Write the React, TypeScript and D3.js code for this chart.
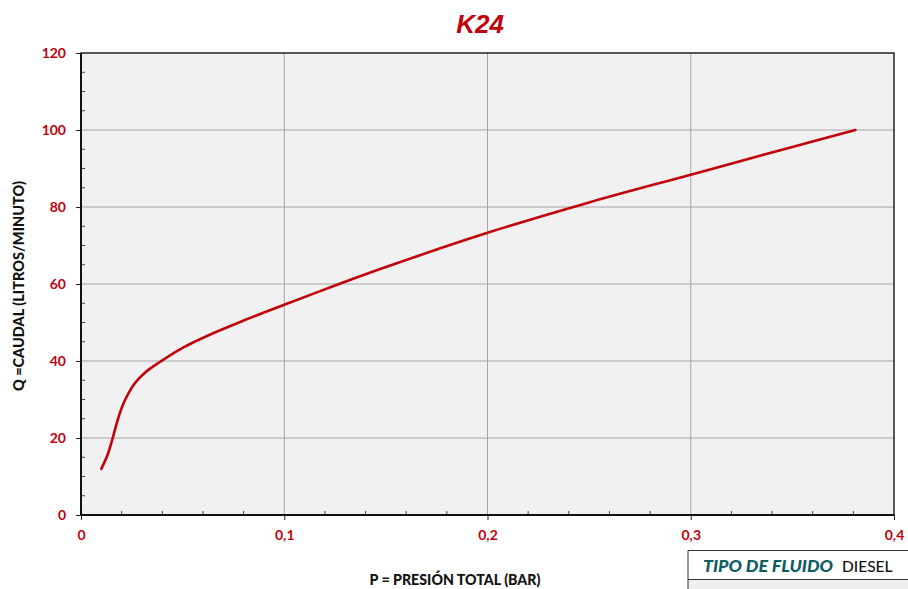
import { useEffect, useRef } from "react";
import * as d3 from "d3";

// presión total (bar) vs caudal (l/min)
const presion = [0.01, 0.013, 0.0155, 0.018, 0.021, 0.0265, 0.032, 0.039, 0.05, 0.065, 0.08, 0.1, 0.125, 0.15, 0.2, 0.25, 0.3, 0.35, 0.381];
const caudal = [12, 15.5, 19.8, 24.6, 29.1, 34.2, 37.2, 39.8, 43.4, 47.2, 50.5, 54.6, 59.6, 64.4, 73.3, 81.2, 88.4, 95.6, 100];

const xTicks = [0, 0.1, 0.2, 0.3, 0.4];
const yTicks = [0, 20, 40, 60, 80, 100, 120];

const RED = "#c2000b";
const FONT = "Lato, 'DejaVu Sans', sans-serif";

export default function App() {
  const ref = useRef<SVGSVGElement>(null);

  useEffect(() => {
    const svg = d3.select(ref.current);
    svg.selectAll("*").remove();

    const m = { left: 81, top: 53, right: 894, bottom: 515 };
    const x = d3.scaleLinear().domain([0, 0.4]).range([m.left, m.right]);
    const y = d3.scaleLinear().domain([0, 120]).range([m.bottom, m.top]);

    svg
      .append("rect")
      .attr("x", m.left)
      .attr("y", m.top)
      .attr("width", m.right - m.left)
      .attr("height", m.bottom - m.top)
      .attr("fill", "#f1f1f1");

    // grid
    svg
      .append("g")
      .selectAll("line")
      .data(xTicks.slice(1, -1))
      .join("line")
      .attr("x1", (d) => x(d))
      .attr("x2", (d) => x(d))
      .attr("y1", m.top)
      .attr("y2", m.bottom)
      .attr("stroke", "#a6a6a6")
      .attr("stroke-width", 1);
    svg
      .append("g")
      .selectAll("line")
      .data(yTicks.slice(1, -1))
      .join("line")
      .attr("x1", m.left)
      .attr("x2", m.right)
      .attr("y1", (d) => y(d))
      .attr("y2", (d) => y(d))
      .attr("stroke", "#a6a6a6")
      .attr("stroke-width", 1);

    // minor ticks, drawn inward
    const xMinor = d3.range(0.02, 0.4, 0.02).filter((v) => Math.abs(v * 10 - Math.round(v * 10)) > 1e-6);
    svg
      .append("g")
      .selectAll("line")
      .data(xMinor)
      .join("line")
      .attr("x1", (d) => x(d))
      .attr("x2", (d) => x(d))
      .attr("y1", m.bottom)
      .attr("y2", m.bottom - 4)
      .attr("stroke", "#444");
    const yMinor = d3.range(5, 120, 5).filter((v) => v % 20 !== 0);
    svg
      .append("g")
      .selectAll("line")
      .data(yMinor)
      .join("line")
      .attr("x1", m.left)
      .attr("x2", m.left + 4)
      .attr("y1", (d) => y(d))
      .attr("y2", (d) => y(d))
      .attr("stroke", "#444");

    // frame
    svg
      .append("rect")
      .attr("x", m.left)
      .attr("y", m.top)
      .attr("width", m.right - m.left)
      .attr("height", m.bottom - m.top)
      .attr("fill", "none")
      .attr("stroke", "#222")
      .attr("stroke-width", 1.5);
    svg
      .append("path")
      .attr("d", `M${m.left},${m.top}V${m.bottom}H${m.right}`)
      .attr("fill", "none")
      .attr("stroke", "#111")
      .attr("stroke-width", 2);

    // axes
    const xAxis = svg
      .append("g")
      .attr("transform", `translate(0,${m.bottom})`)
      .call(
        d3
          .axisBottom(x)
          .tickValues(xTicks)
          .tickSize(5)
          .tickFormat((d) => (d === 0 ? "0" : d3.format(".1f")(d as number).replace(".", ","))),
      );
    xAxis.select(".domain").remove();
    xAxis.selectAll("line").attr("stroke", "#222");
    xAxis
      .selectAll("text")
      .attr("y", 15)
      .attr("dy", "0.71em")
      .attr("fill", RED)
      .attr("font-family", FONT)
      .attr("font-weight", 700)
      .attr("font-size", 14);

    const yAxis = svg
      .append("g")
      .attr("transform", `translate(${m.left},0)`)
      .call(d3.axisLeft(y).tickValues(yTicks).tickSize(5).tickPadding(10));
    yAxis.select(".domain").remove();
    yAxis.selectAll("line").attr("stroke", "#222");
    yAxis
      .selectAll("text")
      .attr("fill", RED)
      .attr("font-family", FONT)
      .attr("font-weight", 700)
      .attr("font-size", 14);

    // curve
    const pts = presion.map((p, i) => [p, caudal[i]] as [number, number]);
    svg
      .append("path")
      .datum(pts)
      .attr("fill", "none")
      .attr("stroke", RED)
      .attr("stroke-width", 2.6)
      .attr("stroke-linecap", "round")
      .attr(
        "d",
        d3
          .line<[number, number]>()
          .x((d) => x(d[0]))
          .y((d) => y(d[1]))
          .curve(d3.curveCatmullRom.alpha(0.5)),
      );

    // titles
    svg
      .append("text")
      .attr("x", 480)
      .attr("y", 33)
      .attr("text-anchor", "middle")
      .attr("fill", RED)
      .attr("font-family", "'Liberation Sans', Arial, sans-serif")
      .attr("font-weight", 700)
      .attr("font-style", "italic")
      .attr("font-size", 26)
      .text("K24");

    svg
      .append("text")
      .attr("transform", "translate(24,286) rotate(-90)")
      .attr("text-anchor", "middle")
      .attr("fill", "#111")
      .attr("font-family", FONT)
      .attr("font-weight", 900)
      .attr("font-size", 14.5)
      .text("Q =CAUDAL (LITROS/MINUTO)");

    svg
      .append("text")
      .attr("x", 455)
      .attr("y", 585)
      .attr("text-anchor", "middle")
      .attr("fill", "#111")
      .attr("font-family", FONT)
      .attr("font-weight", 900)
      .attr("font-size", 14.2)
      .text("P = PRESIÓN TOTAL (BAR)");

    // fluid box
    const box = svg.append("g");
    box
      .append("rect")
      .attr("x", 688)
      .attr("y", 579)
      .attr("width", 230)
      .attr("height", 20)
      .attr("fill", "#efefef");
    box
      .append("path")
      .attr("d", "M688,600V550.5H910M688,579.5H910")
      .attr("fill", "none")
      .attr("stroke", "#333")
      .attr("stroke-width", 1);
    box
      .append("text")
      .attr("x", 703)
      .attr("y", 572)
      .attr("fill", "#0d5c61")
      .attr("font-family", FONT)
      .attr("font-weight", 900)
      .attr("font-style", "italic")
      .attr("font-size", 17.8)
      .text("TIPO DE FLUIDO");
    box
      .append("text")
      .attr("x", 842)
      .attr("y", 572)
      .attr("fill", "#111")
      .attr("font-family", FONT)
      .attr("font-weight", 500)
      .attr("font-size", 15.5)
      .text("DIESEL");
  }, []);

  return (
    <svg
      ref={ref}
      width={908}
      height={589}
      style={{ position: "absolute", left: 0, top: 0, background: "#fff" }}
    />
  );
}
